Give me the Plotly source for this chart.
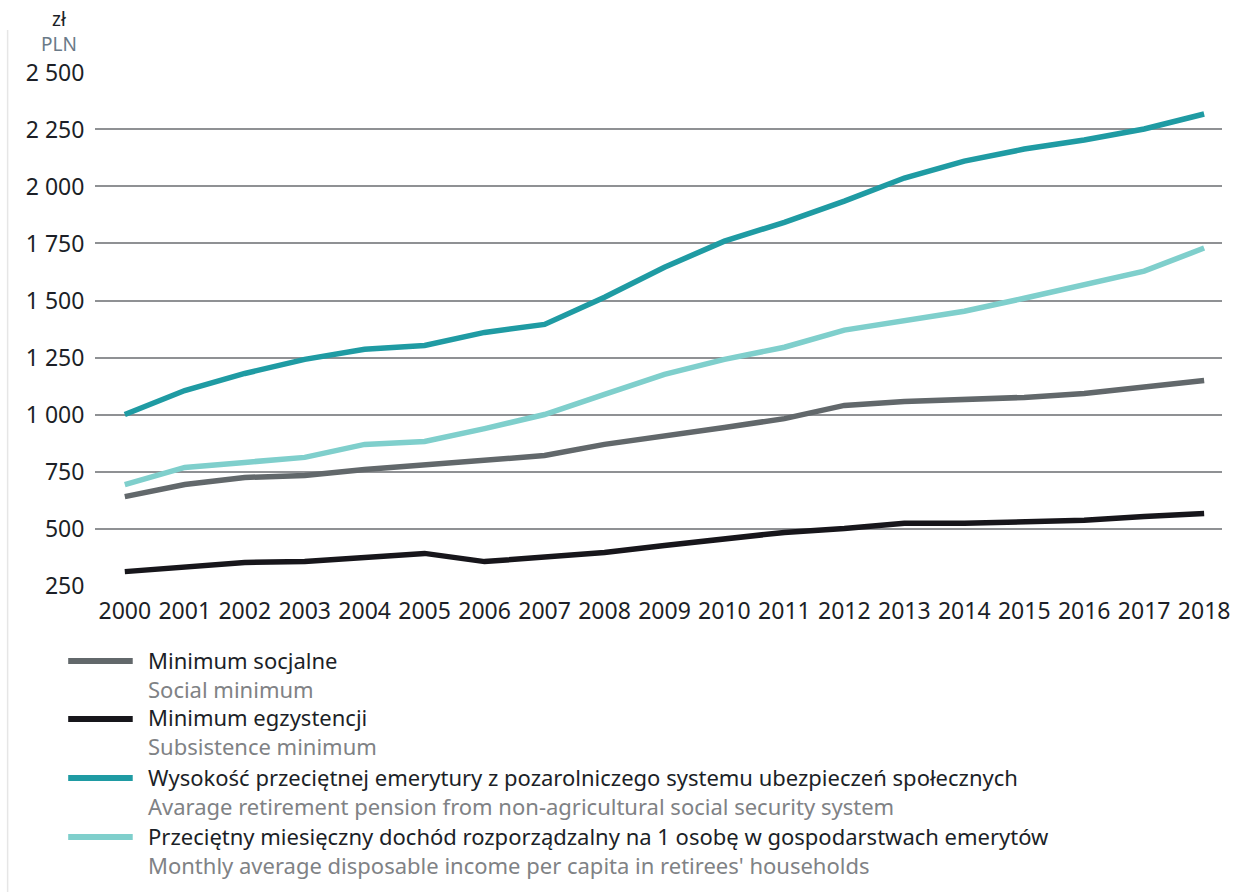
import plotly.graph_objects as go

years = list(range(2000, 2019))

social_minimum = [640, 693, 724, 733, 759, 781, 799, 820, 869, 903, 943, 982, 1040, 1057, 1066, 1075, 1092, 1123, 1149]
subsistence_minimum = [311, 333, 351, 355, 373, 391, 355, 373, 395, 426, 452, 483, 500, 523, 523, 527, 536, 553, 566]
avg_pension = [1000, 1105, 1180, 1242, 1286, 1303, 1360, 1395, 1514, 1646, 1760, 1843, 1936, 2037, 2111, 2164, 2204, 2252, 2318]
disposable_income = [693, 768, 790, 812, 869, 882, 938, 1000, 1088, 1176, 1242, 1295, 1370, 1409, 1453, 1510, 1567, 1629, 1730]

y_ticks = [250, 500, 750, 1000, 1250, 1500, 1750, 2000, 2250, 2500]

names_pl = [
    "Minimum socjalne",
    "Minimum egzystencji",
    "Wysokość przeciętnej emerytury z pozarolniczego systemu ubezpieczeń społecznych",
    "Przeciętny miesięczny dochód rozporządzalny na 1 osobę w gospodarstwach emerytów",
]
names_en = [
    "Social minimum",
    "Subsistence minimum",
    "Avarage retirement pension from non-agricultural social security system",
    "Monthly average disposable income per capita in retirees' households",
]
series = [social_minimum, subsistence_minimum, avg_pension, disposable_income]
colors = ["#62686b", "#17161b", "#1f9ba3", "#7fcfcc"]

W, H = 1239, 892
L, R, T, B = 95, 9, 72, 306
PW, PH = W - L - R, H - T - B

def px(x):
    return (x - L) / PW

def py(y):
    return (H - B - y) / PH

FONT = "Noto Sans"
DARK = "#1c1f27"
GREY_TXT = "#808285"

fig = go.Figure()
for vals, name, col in zip(series, names_pl, colors):
    fig.add_trace(go.Scatter(x=years, y=vals, mode="lines", name=name,
                             line=dict(color=col, width=5.5), showlegend=False))

# Manual legend
legend_y = [661, 719, 778, 837]
shapes = []
annotations = []
for i, (pl, en, col) in enumerate(zip(names_pl, names_en, colors)):
    yc = legend_y[i]
    shapes.append(dict(type="line", xref="paper", yref="paper",
                       x0=px(68), x1=px(133), y0=py(yc), y1=py(yc),
                       line=dict(color=col, width=6)))
    annotations.append(dict(
        xref="paper", yref="paper", x=px(147), y=py(yc + 13),
        xanchor="left", yanchor="middle", align="left", showarrow=False,
        borderpad=0,
        text=f"{pl}<br><span style='color:{GREY_TXT}'>{en}</span>",
        font=dict(family=FONT, size=22, color=DARK)))

# unit labels
annotations.append(dict(xref="paper", yref="paper", x=px(59), y=py(31), xanchor="center",
                        yanchor="middle", showarrow=False, borderpad=0,
                        text="zł<br><span style='color:#6a7a88'>PLN</span>",
                        font=dict(family=FONT, size=19, color=DARK)))

# faint left border line
shapes.append(dict(type="line", xref="paper", yref="paper", x0=px(7), x1=px(7),
                   y0=py(30), y1=py(892), line=dict(color="#e6e6e6", width=1.5)))

fig.update_layout(
    width=W, height=H,
    margin=dict(l=L, r=R, t=T, b=B, pad=0),
    paper_bgcolor="white", plot_bgcolor="white",
    separators=", ",
    shapes=shapes, annotations=annotations,
    font=dict(family=FONT, color=DARK),
)
fig.update_xaxes(
    range=[1999.503, 2018.298], tickmode="array", tickvals=years,
    ticktext=[str(y) for y in years], showgrid=False, zeroline=False,
    showline=False, ticks="outside", ticklen=4, tickcolor="rgba(0,0,0,0)",
    ticklabeloverflow="allow",
    tickfont=dict(family=FONT, size=23, color=DARK), fixedrange=True,
)
fig.update_yaxes(
    range=[248, 2502], tickmode="array", tickvals=y_ticks, tickformat=",d",
    showgrid=True, gridcolor="#8f9194", gridwidth=1.5, zeroline=False,
    showline=False, ticks="outside", ticklen=5, tickcolor="rgba(0,0,0,0)",
    tickfont=dict(family=FONT, size=23, color=DARK), fixedrange=True,
)

fig.write_html("out.html", config={"displayModeBar": False},
               post_script="document.body.style.margin='0';document.body.style.overflow='hidden';")
